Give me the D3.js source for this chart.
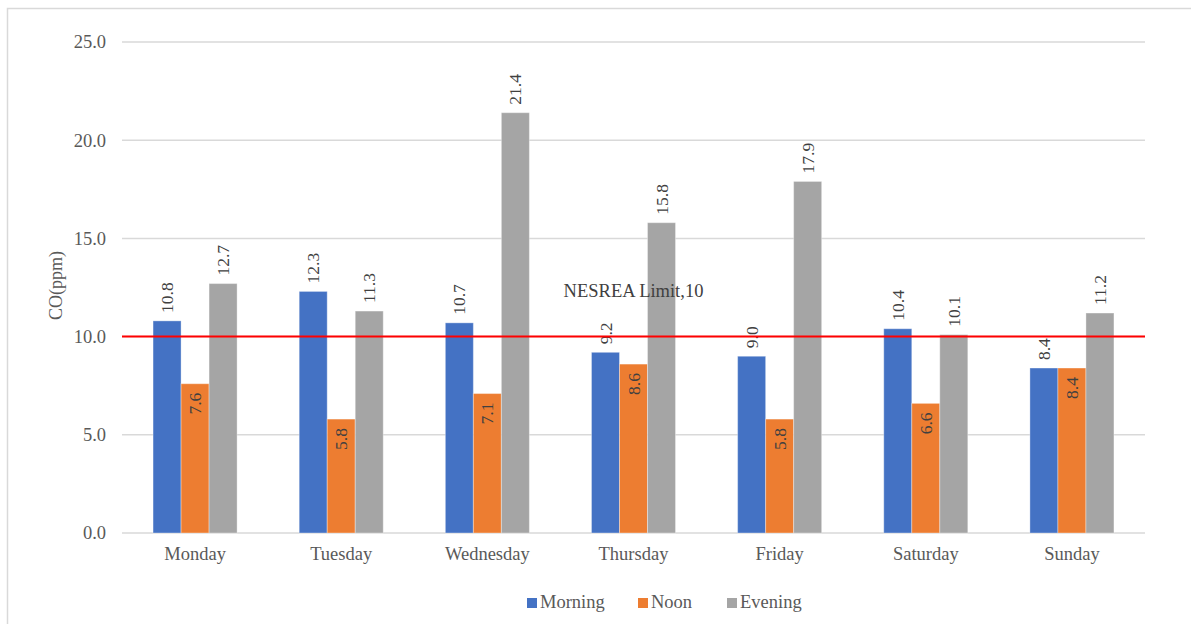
<!DOCTYPE html>
<html>
<head>
<meta charset="utf-8">
<script src="https://cdn.jsdelivr.net/npm/d3@7"></script>
<style>
  body { margin: 0; background: #fff; }
  svg, svg text { font-family: "Liberation Serif", "Times New Roman", serif; }
  svg { display: block; }
</style>
</head>
<body>
<div id="chart"></div>
<script>
// === Data ===
const days = ["Monday", "Tuesday", "Wednesday", "Thursday", "Friday", "Saturday", "Sunday"];
const seriesNames = ["Morning", "Noon", "Evening"];
const morning = [10.8, 12.3, 10.7, 9.2, 9.0, 10.4, 8.4];
const noon = [7.6, 5.8, 7.1, 8.6, 5.8, 6.6, 8.4];
const evening = [12.7, 11.3, 21.4, 15.8, 17.9, 10.1, 11.2];
const yTicks = [0, 5, 10, 15, 20, 25];
const limitValue = 10;
const limitLabel = "NESREA Limit,10";
const yTitle = "CO(ppm)";

const colors = { Morning: "#4472C4", Noon: "#ED7D31", Evening: "#A5A5A5" };
const values = { Morning: morning, Noon: noon, Evening: evening };
const FONT = "Liberation Serif, Times New Roman, serif";

const width = 1191, height = 624;
const m = { top: 42, right: 46, bottom: 91, left: 122 };
const w = width - m.left - m.right;
const h = height - m.top - m.bottom;

const svg = d3.select("#chart").append("svg")
  .attr("width", width)
  .attr("height", height);

// chart border
svg.append("rect")
  .attr("x", 7.5).attr("y", 8.5)
  .attr("width", width).attr("height", height)
  .attr("fill", "none")
  .attr("stroke", "#d9d9d9")
  .attr("stroke-width", 1.5);

const g = svg.append("g").attr("transform", `translate(${m.left},${m.top})`);

const x0 = d3.scaleBand().domain(days).range([0, w]).padding(0);
const groupW = x0.bandwidth() * 0.575;
const x1 = d3.scaleBand().domain(seriesNames)
  .range([(x0.bandwidth() - groupW) / 2, (x0.bandwidth() + groupW) / 2]).padding(0);
const y = d3.scaleLinear().domain([0, 25]).range([h, 0]);

// gridlines
g.append("g")
  .selectAll("line")
  .data(yTicks)
  .join("line")
  .attr("x1", 0).attr("x2", w)
  .attr("y1", d => y(d)).attr("y2", d => y(d))
  .attr("stroke", "#d9d9d9")
  .attr("stroke-width", 1.5);

// y axis labels
const yAxis = g.append("g")
  .call(d3.axisLeft(y).tickValues(yTicks).tickFormat(d3.format(".1f")).tickSize(0).tickPadding(16))
  .attr("font-family", FONT);
yAxis.select(".domain").remove();
yAxis.selectAll("text")
  .attr("fill", "#595959")
  .attr("font-size", 18.5);

// x axis labels
const xAxis = g.append("g")
  .attr("transform", `translate(0,${h})`)
  .call(d3.axisBottom(x0).tickSize(0).tickPadding(14))
  .attr("font-family", FONT);
xAxis.select(".domain").remove();
xAxis.selectAll("text")
  .attr("fill", "#595959")
  .attr("font-size", 18.5);

// y title
svg.append("text")
  .attr("transform", `translate(62,${m.top + y(12.6)}) rotate(-90)`)
  .attr("text-anchor", "middle")
  .attr("fill", "#595959")
  .attr("font-family", FONT)
  .attr("font-size", 18)
  .text(yTitle);

// bars
const rows = days.map((d, i) => ({ day: d, vals: seriesNames.map(s => ({ key: s, v: values[s][i] })) }));

const groups = g.selectAll(".grp")
  .data(rows)
  .join("g")
  .attr("class", "grp")
  .attr("transform", d => `translate(${x0(d.day)},0)`);

groups.selectAll("rect")
  .data(d => d.vals)
  .join("rect")
  .attr("x", d => x1(d.key))
  .attr("y", d => y(d.v))
  .attr("width", x1.bandwidth())
  .attr("height", d => h - y(d.v))
  .attr("fill", d => colors[d.key])
  .attr("stroke", "#ffffff")
  .attr("stroke-opacity", 0.35)
  .attr("stroke-width", 1);

// limit line
g.append("line")
  .attr("x1", 0).attr("x2", w)
  .attr("y1", y(limitValue)).attr("y2", y(limitValue))
  .attr("stroke", "#ff0000")
  .attr("stroke-width", 2);

// data labels (rotated)
groups.selectAll(".lbl")
  .data(d => d.vals)
  .join("text")
  .attr("class", "lbl")
  .attr("transform", d => {
    const cx = x1(d.key) + x1.bandwidth() / 2;
    const yy = d.key === "Noon" ? y(d.v) + 9 : y(d.v) - 8;
    return `translate(${cx},${yy}) rotate(-90)`;
  })
  .attr("text-anchor", d => d.key === "Noon" ? "end" : "start")
  .attr("dy", "0.35em")
  .attr("fill", "#404040")
  .attr("font-family", FONT)
  .attr("font-size", 17.5)
  .text(d => d3.format(".1f")(d.v));

// limit annotation
g.append("text")
  .attr("x", x0("Thursday") + x0.bandwidth() / 2)
  .attr("y", y(limitValue) - 40)
  .attr("text-anchor", "middle")
  .attr("fill", "#404040")
  .attr("font-family", FONT)
  .attr("font-size", 18.5)
  .text(limitLabel);

// legend
const legend = svg.append("g").attr("transform", `translate(0,${height - 16})`);
const legendX = [527, 638, 727];
const lg = legend.selectAll("g")
  .data(seriesNames)
  .join("g")
  .attr("transform", (d, i) => `translate(${legendX[i]},0)`);
lg.append("rect")
  .attr("x", 0).attr("y", -10)
  .attr("width", 10).attr("height", 10)
  .attr("fill", d => colors[d]);
lg.append("text")
  .attr("x", 13).attr("y", 0)
  .attr("fill", "#595959")
  .attr("font-family", FONT)
  .attr("font-size", 18.5)
  .text(d => d);
</script>
</body>
</html>
